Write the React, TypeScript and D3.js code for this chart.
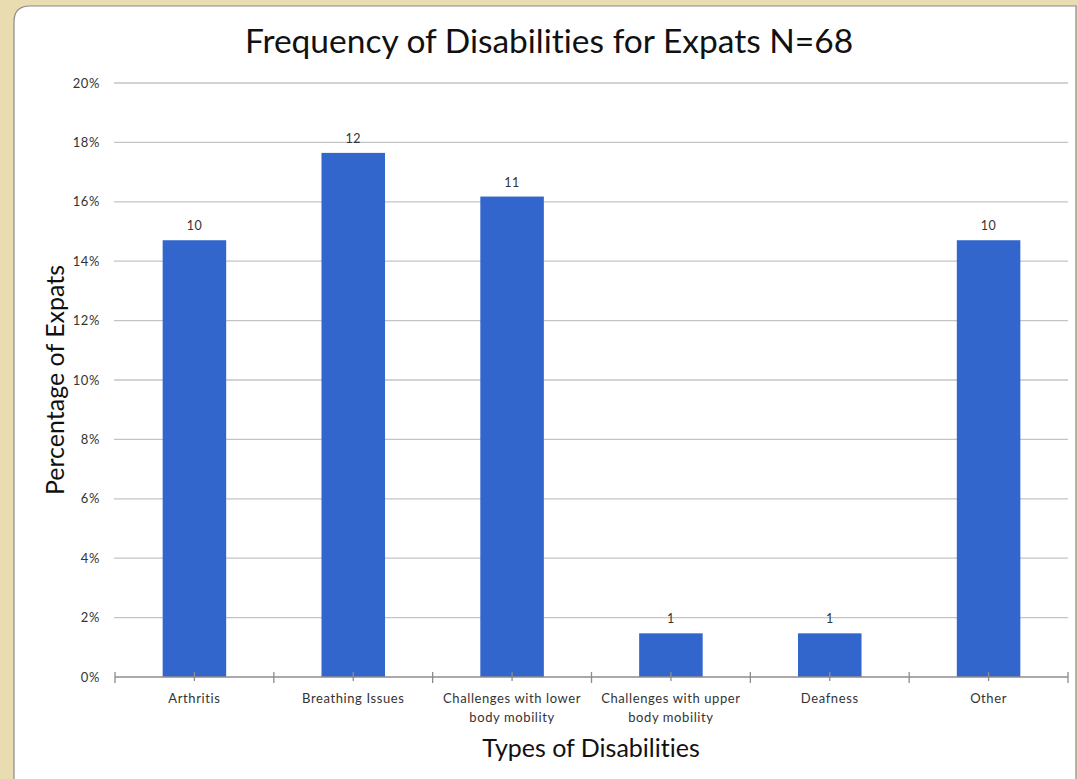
import React from "react";
import * as d3 from "d3";

const categories: string[][] = [
  ["Arthritis"],
  ["Breathing Issues"],
  ["Challenges with lower", "body mobility"],
  ["Challenges with upper", "body mobility"],
  ["Deafness"],
  ["Other"],
];
const counts: number[] = [10, 12, 11, 1, 1, 10];
const totalN = 68;
const yTicks: number[] = [0, 0.02, 0.04, 0.06, 0.08, 0.1, 0.12, 0.14, 0.16, 0.18, 0.2];

const W = 1078;
const H = 779;
const plotLeft = 115;
const plotRight = 1068;
const plotTop = 83;
const plotBottom = 677;
const FONT = "Lato, 'Open Sans', sans-serif";
const noLig = { fontVariantLigatures: "none" } as React.CSSProperties;

export default function App() {
  const x = d3
    .scaleBand<number>()
    .domain(categories.map((_, i) => i))
    .range([plotLeft, plotRight])
    .paddingInner(0.6)
    .paddingOuter(0.3);
  const xb = d3
    .scaleBand<number>()
    .domain(categories.map((_, i) => i))
    .range([plotLeft, plotRight]);
  const y = d3.scaleLinear().domain([0, 0.2]).range([plotBottom, plotTop]);
  const pct = d3.format(".0%");

  return (
    <svg
      width={W}
      height={H}
      style={{ position: "absolute", left: 0, top: 0, display: "block" }}
    >
      <rect x={0} y={0} width={W} height={H} fill="#e8dcb0" />
      <path
        d={`M14,${H + 10} L14,22 Q14,6 30,6 L${W - 2},6 L${W - 2},${H + 10} Z`}
        fill="#ffffff"
        stroke="#8a8a8a"
        strokeWidth={1.2}
      />
      <text
        x={549}
        y={53}
        textAnchor="middle"
        fontFamily={FONT}
        fontSize={33.5}
        fill="#111"
        style={noLig}
      >
        Frequency of Disabilities for Expats N={totalN}
      </text>
      {yTicks.map((t) => (
        <g key={t}>
          {t > 0 && (
            <line
              x1={114}
              x2={plotRight}
              y1={y(t)}
              y2={y(t)}
              stroke="#c4c4c4"
              strokeWidth={1.3}
            />
          )}
          <text
            x={100}
            y={y(t) + 4.5}
            textAnchor="end"
            fontFamily={FONT}
            fontSize={13}
            letterSpacing={0.6}
            fill="#333"
          >
            {pct(t)}
          </text>
        </g>
      ))}
      {counts.map((c, i) => {
        const v = c / totalN;
        return (
          <g key={i}>
            <rect
              x={x(i)}
              y={y(v)}
              width={x.bandwidth()}
              height={plotBottom - y(v)}
              fill="#3366cc"
            />
            <text
              x={(x(i) as number) + x.bandwidth() / 2}
              y={y(v) - 10}
              textAnchor="middle"
              fontFamily={FONT}
              fontSize={12.5}
              letterSpacing={0.5}
              fill="#333"
            >
              {c}
            </text>
          </g>
        );
      })}
      <line
        x1={plotLeft}
        x2={plotRight}
        y1={plotBottom}
        y2={plotBottom}
        stroke="#8c8c8c"
        strokeWidth={1.3}
      />
      {d3.range(categories.length + 1).map((i) => {
        const px = plotLeft + i * xb.step();
        return (
          <line
            key={"b" + i}
            x1={px}
            x2={px}
            y1={plotBottom - 5}
            y2={plotBottom + 6}
            stroke="#8c8c8c"
            strokeWidth={1.3}
          />
        );
      })}
      {categories.map((lines, i) => {
        const cx = (xb(i) as number) + xb.bandwidth() / 2;
        return (
          <g key={"c" + i}>
            <line
              x1={cx}
              x2={cx}
              y1={plotBottom - 5}
              y2={plotBottom + 4}
              stroke="#8c8c8c"
              strokeWidth={1.3}
            />
            {lines.map((ln, j) => (
              <text
                key={j}
                x={cx}
                y={703 + j * 19}
                textAnchor="middle"
                fontFamily={FONT}
                fontSize={13}
                letterSpacing={0.6}
                fill="#333"
                style={noLig}
              >
                {ln}
              </text>
            ))}
          </g>
        );
      })}
      <text
        x={591}
        y={757}
        textAnchor="middle"
        fontFamily={FONT}
        fontSize={25}
        fill="#111"
        style={noLig}
      >
        Types of Disabilities
      </text>
      <text
        transform="translate(64,380) rotate(-90)"
        textAnchor="middle"
        fontFamily={FONT}
        fontSize={25}
        fill="#111"
        style={noLig}
      >
        Percentage of Expats
      </text>
    </svg>
  );
}
